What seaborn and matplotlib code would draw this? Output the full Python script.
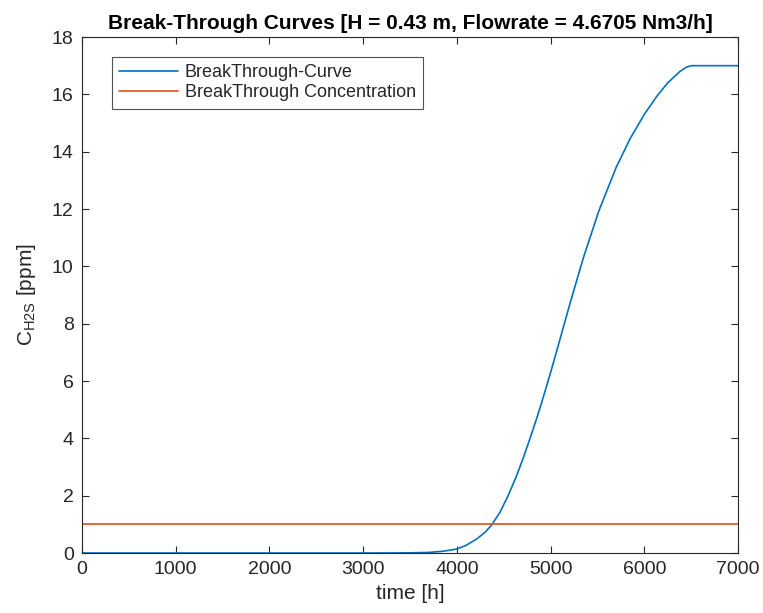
import matplotlib
matplotlib.use("Agg")
import matplotlib.pyplot as plt
import seaborn as sns
import pandas as pd

# Data
time_h = [0, 1000, 2000, 3000, 3300, 3500, 3700, 3850, 4000, 4100, 4212, 4300,
          4372, 4460, 4550, 4638, 4710, 4781, 4850, 4905, 4960, 5012, 5100, 5207,
          5350, 5517, 5700, 5848, 6000, 6133, 6250, 6381, 6450, 6506, 7000]
conc_ppm = [0, 0, 0, 0, 0.002, 0.006, 0.02, 0.06, 0.14, 0.27, 0.49, 0.72,
            0.98, 1.42, 2.02, 2.7, 3.33, 4.0, 4.68, 5.25, 5.85, 6.43, 7.45, 8.7,
            10.3, 11.95, 13.45, 14.45, 15.3, 15.93, 16.4, 16.8, 16.95, 17.0, 17.0]
limit_t = [0, 7000]
limit_c = [1, 1]

x_ticks = [0, 1000, 2000, 3000, 4000, 5000, 6000, 7000]
y_ticks = [0, 2, 4, 6, 8, 10, 12, 14, 16, 18]

sns.set_theme(style="ticks")
plt.rcParams['font.family'] = ['Liberation Sans', 'DejaVu Sans']
plt.rcParams['mathtext.fontset'] = 'custom'
plt.rcParams['mathtext.rm'] = 'Liberation Sans'

axc = '#262626'
fig = plt.figure(figsize=(7.63, 6.13), dpi=100)
ax = fig.add_axes([82/763, 60/613, 656/763, 516/613])

df_curve = pd.DataFrame({'t': time_h, 'c': conc_ppm})
df_limit = pd.DataFrame({'t': limit_t, 'c': limit_c})
sns.lineplot(data=df_curve, x='t', y='c', ax=ax, color='#0072BD', lw=1.2,
             label='BreakThrough-Curve')
sns.lineplot(data=df_limit, x='t', y='c', ax=ax, color='#D95319', lw=1.2,
             label='BreakThrough Concentration')

ax.set_xlim(0, 7000)
ax.set_ylim(0, 18)
ax.set_xticks(x_ticks)
ax.set_yticks(y_ticks)
ax.tick_params(direction='in', top=True, right=True, length=5, width=0.8,
               colors=axc, labelsize=14, pad=6)
for s in ax.spines.values():
    s.set_color(axc)
    s.set_linewidth(0.8)
    s.set_visible(True)

ax.set_xlabel('time [h]', fontsize=15, color=axc, labelpad=4)
ax.set_ylabel(r'C$_{\mathregular{H2S}}$ [ppm]', fontsize=15, color=axc, labelpad=10)
ax.set_title('Break-Through Curves [H = 0.43 m, Flowrate = 4.6705 Nm3/h]',
             fontsize=15, fontweight='bold', color='black', pad=6)

leg = ax.legend(loc='upper left', bbox_to_anchor=(0.045, 0.962), borderaxespad=0,
                fontsize=13, frameon=True, fancybox=False, handlelength=3.3,
                labelspacing=0.2, borderpad=0.4, handletextpad=0.35)
leg.get_frame().set_edgecolor(axc)
leg.get_frame().set_linewidth(0.8)
for t in leg.get_texts():
    t.set_color(axc)

fig.savefig('out.png', dpi=100, facecolor='white')
